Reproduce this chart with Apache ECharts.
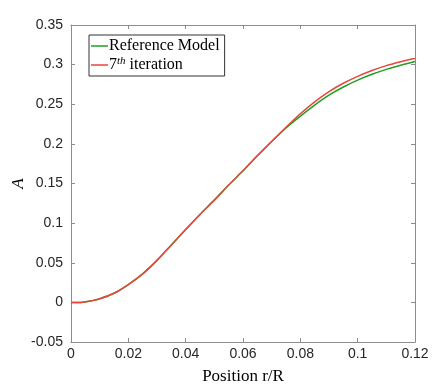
<!DOCTYPE html>
<html>
<head>
<meta charset="utf-8">
<script src="https://cdn.jsdelivr.net/npm/echarts@6/dist/echarts.min.js"></script>
<style>
html, body { margin: 0; padding: 0; background: #fff; }
#main { width: 436px; height: 392px; }
</style>
</head>
<body>
<div id="main"></div>
<script>
// position r/R
var xPos = [0, 0.0035, 0.0075, 0.01, 0.015, 0.02, 0.025, 0.03, 0.035, 0.04, 0.045, 0.05, 0.055, 0.06, 0.065, 0.07, 0.075, 0.08, 0.085, 0.09, 0.095, 0.1, 0.105, 0.11, 0.115, 0.12];
var refModel = [0, 0, 0.0022, 0.0045, 0.0115, 0.0225, 0.036, 0.053, 0.0725, 0.092, 0.111, 0.129, 0.148, 0.166, 0.185, 0.203, 0.220, 0.235, 0.249, 0.2615, 0.2718, 0.2805, 0.2878, 0.294, 0.2993, 0.304];
var iter7 = [0, 0, 0.0022, 0.0045, 0.0115, 0.0225, 0.036, 0.053, 0.0725, 0.092, 0.111, 0.129, 0.148, 0.166, 0.185, 0.203, 0.221, 0.238, 0.253, 0.266, 0.2765, 0.2852, 0.2925, 0.2987, 0.3037, 0.308];
var seriesNames = ['Reference Model', '7th iteration'];

function pairs(xs, ys) {
	var out = [];
	for (var i = 0; i < xs.length; i++) {
		out.push([xs[i], ys[i]]);
	}
	return out;
}

var chart = echarts.init(document.getElementById('main'));

var axisColor = '#8c8c8c';
var labelColor = '#262626';

var option = {
	animation: false,
	color: ['#1fa01f', '#e8453c'],
	grid: {
		left: 71,
		right: 21,
		top: 25,
		bottom: 50,
		outerBoundsMode: 'none'
	},
	legend: {
		orient: 'vertical',
		left: 89,
		top: 35,
		padding: [3, 5, 3, 2],
		itemGap: 2,
		itemWidth: 17,
		itemHeight: 1.5,
		icon: 'rect',
		borderColor: '#333',
		borderWidth: 1,
		data: seriesNames,
		textStyle: {
			fontFamily: 'Liberation Serif',
			fontSize: 16,
			color: '#000',
			padding: [0, 0, 0, -4],
			rich: {
				sup: {
					fontFamily: 'Liberation Serif',
					fontStyle: 'italic',
					fontSize: 11,
					verticalAlign: 'top',
					padding: [0, 0, 7, 0]
				}
			}
		},
		formatter: function(name) {
			if (name == '7th iteration') {
				return '7{sup|th} iteration';
			}
			return name;
		}
	},
	xAxis: [{
		type: 'value',
		min: 0,
		max: 0.12,
		interval: 0.02,
		name: 'Position r/R',
		nameLocation: 'middle',
		nameGap: 26,
		nameTextStyle: {
			fontFamily: 'Liberation Serif',
			fontSize: 17,
			color: '#000'
		},
		axisLine: { onZero: false, lineStyle: { color: axisColor } },
		axisTick: { inside: true, length: 4, lineStyle: { color: axisColor } },
		axisLabel: {
			margin: 5,
			fontFamily: 'Liberation Sans',
			fontSize: 14,
			color: labelColor
		},
		splitLine: { show: false }
	}, {
		type: 'value',
		position: 'top',
		min: 0,
		max: 0.12,
		interval: 0.02,
		axisLine: { show: true, onZero: false, lineStyle: { color: axisColor } },
		axisTick: { show: true, inside: true, length: 4, lineStyle: { color: axisColor } },
		axisLabel: { show: false },
		splitLine: { show: false }
	}],
	yAxis: [{
		type: 'value',
		min: -0.05,
		max: 0.35,
		interval: 0.05,
		name: 'A',
		nameLocation: 'middle',
		nameGap: 44,
		nameMoveOverlap: false,
		nameRotate: 90,
		nameTextStyle: {
			fontFamily: 'Liberation Serif',
			fontStyle: 'italic',
			fontSize: 17,
			color: '#000'
		},
		axisLine: { show: true, onZero: false, lineStyle: { color: axisColor } },
		axisTick: { show: true, inside: true, length: 4, lineStyle: { color: axisColor } },
		axisLabel: {
			margin: 8,
			fontFamily: 'Liberation Sans',
			fontSize: 14,
			color: labelColor,
			formatter: function(v) {
				return String(Math.round(v * 100) / 100);
			}
		},
		splitLine: { show: false }
	}, {
		type: 'value',
		position: 'right',
		min: -0.05,
		max: 0.35,
		interval: 0.05,
		axisLine: { show: true, onZero: false, lineStyle: { color: axisColor } },
		axisTick: { show: true, inside: true, length: 4, lineStyle: { color: axisColor } },
		axisLabel: { show: false },
		splitLine: { show: false }
	}],
	series: [{
		name: seriesNames[0],
		type: 'line',
		symbol: 'none',
		smooth: 0.3,
		lineStyle: { width: 1.5 },
		data: pairs(xPos, refModel)
	}, {
		name: seriesNames[1],
		type: 'line',
		symbol: 'none',
		smooth: 0.3,
		lineStyle: { width: 1.5 },
		data: pairs(xPos, iter7)
	}]
};
chart.setOption(option);
</script>
</body>
</html>
